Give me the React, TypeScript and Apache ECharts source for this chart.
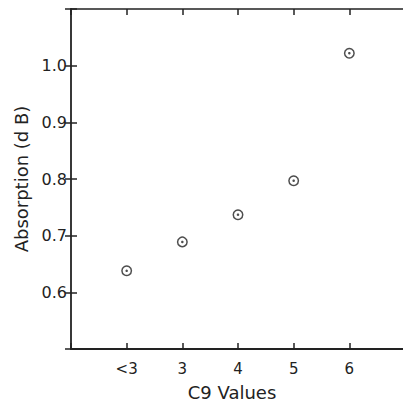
import React, { useEffect, useRef } from "react";
import * as echarts from "echarts";

const categories = ["<3", "3", "4", "5", "6"];
const absorption = [0.638, 0.689, 0.737, 0.797, 1.022];
const yTicks = [0.6, 0.7, 0.8, 0.9, 1.0];

const INK = "#222";
const FONT = "DejaVu Sans";

export default function App() {
  const ref = useRef<HTMLDivElement>(null);
  useEffect(() => {
    if (!ref.current) return;
    const chart = echarts.init(ref.current, undefined, { renderer: "svg" });
    const points = absorption.map((v, i) => [i + 1, v]);
    const tickLine = { show: true, inside: true, length: 6, lineStyle: { color: INK, width: 1.5 } };
    chart.setOption({
      animation: false,
      backgroundColor: "#fff",
      grid: { left: 71, top: 9, right: -2, bottom: 52, containLabel: false, outerBoundsMode: "none" },
      xAxis: [
        {
          type: "value",
          position: "bottom",
          min: 0,
          max: 6,
          interval: 1,
          name: "C9 Values",
          nameLocation: "middle",
          nameGap: 35,
          nameTextStyle: {
            color: INK,
            fontFamily: FONT,
            fontSize: 18,
            lineHeight: 16,
            verticalAlign: "top",
            padding: [0, 12, 0, 0],
          },
          axisLine: { show: true, onZero: false, lineStyle: { color: INK, width: 2 } },
          axisTick: tickLine,
          axisLabel: {
            color: INK,
            fontFamily: FONT,
            fontSize: 15,
            margin: 12,
            formatter: (v: number) => categories[v - 1] ?? "",
          },
          splitLine: { show: false },
        },
        {
          type: "value",
          position: "top",
          min: 0,
          max: 6,
          interval: 1,
          axisLine: { show: true, onZero: false, lineStyle: { color: INK, width: 1.5 } },
          axisTick: tickLine,
          axisLabel: { show: false },
          splitLine: { show: false },
        },
      ],
      yAxis: [
        {
          type: "value",
          position: "left",
          min: 0.5,
          max: 1.1,
          interval: 0.1,
          name: "Absorption (d B)",
          nameLocation: "middle",
          nameGap: 39,
          nameRotate: 90,
          nameTextStyle: { color: INK, fontFamily: FONT, fontSize: 18 },
          axisLine: { show: true, onZero: false, lineStyle: { color: INK, width: 1.8 } },
          axisTick: tickLine,
          axisLabel: {
            color: INK,
            fontFamily: FONT,
            fontSize: 16,
            margin: 4,
            formatter: (v: number) => {
              const r = Math.round(v * 10) / 10;
              return yTicks.some((t) => Math.abs(t - r) < 1e-6) ? r.toFixed(1) : "";
            },
          },
          splitLine: { show: false },
        },
        {
          type: "value",
          position: "right",
          min: 0.5,
          max: 1.1,
          interval: 0.1,
          axisLine: { show: false },
          axisTick: tickLine,
          axisLabel: { show: false },
          splitLine: { show: false },
        },
      ],
      series: [
        {
          type: "scatter",
          data: points,
          symbol: "circle",
          symbolSize: 9.5,
          itemStyle: { color: "#fff", borderColor: INK, borderWidth: 1.5 },
          z: 2,
        },
        {
          type: "scatter",
          data: points,
          symbol: "circle",
          symbolSize: 2.5,
          itemStyle: { color: INK },
          z: 3,
        },
      ],
    });
    return () => chart.dispose();
  }, []);
  return (
    <div
      ref={ref}
      style={{ position: "fixed", left: 0, top: 0, width: 403, height: 401, background: "#fff" }}
    />
  );
}
